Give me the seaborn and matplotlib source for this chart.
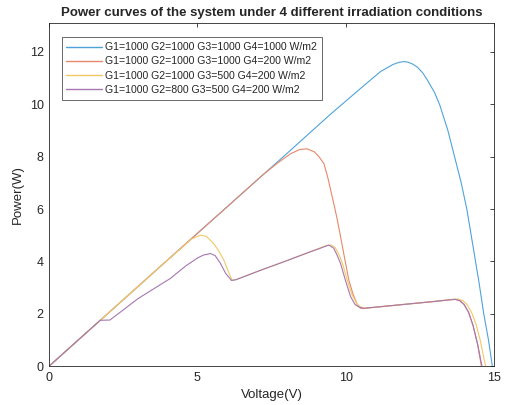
import pandas as pd
import numpy as np
import seaborn as sns
import matplotlib.pyplot as plt
from matplotlib.lines import Line2D

# Curve data (Voltage V, Power W)

labels = ["G1=1000 G2=1000 G3=1000 G4=1000 W/m2",
          "G1=1000 G2=1000 G3=1000 G4=200 W/m2",
          "G1=1000 G2=1000 G3=500 G4=200 W/m2",
          "G1=1000 G2=800 G3=500 G4=200 W/m2"]

v1 = [0, 2, 4, 6, 8, 9.5, 10.5, 11.18, 11.6, 11.8, 11.96, 12.1, 12.25, 12.42,
      12.6, 12.76, 13.0, 13.18, 13.45, 13.68, 13.9, 14.09, 14.32, 14.5, 14.66,
      14.82, 14.95]
p1 = [0, 2.03, 4.06, 6.08, 8.1, 9.63, 10.6, 11.25, 11.52, 11.6, 11.63, 11.61,
      11.54, 11.42, 11.2, 10.92, 10.45, 9.96, 9.0, 7.98, 7.0, 5.99, 4.43, 3.2,
      2.0, 1.0, 0]

v2 = [0, 2, 4, 6, 7.2, 7.7, 8.14, 8.45, 8.7, 8.95, 9.1, 9.27, 9.4, 9.55, 9.7,
      9.83, 9.97, 10.11, 10.25, 10.4, 10.5, 10.6, 11, 12, 13, 13.5, 13.7, 13.85,
      14.0, 14.15, 14.3, 14.45, 14.58]
p2 = [0, 2.03, 4.06, 6.08, 7.3, 7.75, 8.11, 8.27, 8.3, 8.18, 8.0, 7.73, 7.2,
      6.46, 5.7, 4.94, 4.1, 3.28, 2.75, 2.33, 2.21, 2.2, 2.25, 2.36, 2.47, 2.53,
      2.55, 2.5, 2.35, 2.05, 1.55, 0.85, 0]

v3 = [0, 2, 4, 4.5, 4.8, 5.1, 5.3, 5.55, 5.72, 5.89, 6.05, 6.17, 6.3, 7.13,
      8.0, 8.7, 9.15, 9.4, 9.52, 9.65, 9.78, 9.9, 10.05, 10.22, 10.38, 10.5,
      10.65, 11, 12, 13, 13.6, 13.8, 13.95, 14.1, 14.25, 14.4, 14.55, 14.72]
p3 = [0, 2.03, 4.06, 4.55, 4.85, 5.0, 4.96, 4.68, 4.4, 4.05, 3.6, 3.28, 3.3,
      3.66, 4.02, 4.32, 4.52, 4.62, 4.62, 4.52, 4.25, 3.9, 3.3, 2.72, 2.38,
      2.26, 2.21, 2.25, 2.36, 2.47, 2.55, 2.56, 2.5, 2.35, 2.05, 1.6, 0.95, 0]

v4 = [0, 1, 1.72, 2.05, 3, 4.09, 4.6, 4.99, 5.2, 5.44, 5.6, 5.78, 5.95, 6.15,
      6.3, 7.13, 8.0, 8.7, 9.1, 9.3, 9.44, 9.6, 9.72, 9.83, 10.0, 10.17, 10.32,
      10.45, 10.6, 11, 12, 13, 13.5, 13.7, 13.85, 14.0, 14.15, 14.3, 14.45,
      14.6]
p4 = [0, 1.02, 1.75, 1.76, 2.58, 3.35, 3.82, 4.12, 4.24, 4.3, 4.22, 3.92,
      3.55, 3.27, 3.3, 3.66, 4.02, 4.32, 4.48, 4.57, 4.62, 4.5, 4.22, 3.92,
      3.25, 2.65, 2.35, 2.26, 2.21, 2.25, 2.36, 2.47, 2.53, 2.55, 2.5, 2.35,
      2.05, 1.55, 0.85, 0]

# light versions of the MATLAB default line colours
colors = ["#4FA3DA", "#E7886A", "#F2C867", "#A677B0"]

df = pd.concat([
    pd.DataFrame({"V": v, "P": p, "case": lab})
    for v, p, lab in zip([v1, v2, v3, v4], [p1, p2, p3, p4], labels)
])

sns.set_style("white")
plt.rcParams['font.family'] = ['Liberation Sans', 'DejaVu Sans']

fig = plt.figure(figsize=(5.07, 4.05), dpi=100)
ax = fig.add_axes([0.097, 0.096, 0.877, 0.847])

sns.lineplot(data=df, x="V", y="P", hue="case", hue_order=labels,
             palette=colors, sort=False, estimator=None, linewidth=0.8,
             ax=ax, legend=False)

ax.set_xlim(0, 15)
ax.set_ylim(0, 13.1)
ax.set_xticks([0, 5, 10, 15])
ax.set_yticks([0, 2, 4, 6, 8, 10, 12])
ax.tick_params(direction="in", length=3, width=0.6, top=True, right=True,
               labelsize=9, colors="#262626", pad=4)
for s in ax.spines.values():
    s.set_color("#262626")
    s.set_linewidth(0.6)

ax.set_xlabel("Voltage(V)", fontsize=9.5, color="#262626")
ax.set_ylabel("Power(W)", fontsize=9.5, color="#262626")
ax.set_title("Power curves of the system under 4 different irradiation conditions",
             fontsize=9.5, fontweight="bold", pad=5)

handles = [Line2D([0, 1], [0, 0], color=c, linewidth=1.0) for c in colors]
leg = ax.legend(handles, labels, loc="upper left", fontsize=7.6, frameon=True,
                fancybox=False, handlelength=3.4, handletextpad=0.3,
                borderpad=0.45, labelspacing=0.4,
                bbox_to_anchor=(0.028, 0.958), borderaxespad=0)
leg.get_frame().set_edgecolor("#262626")
leg.get_frame().set_linewidth(0.6)

fig.savefig("out.png", dpi=100)
